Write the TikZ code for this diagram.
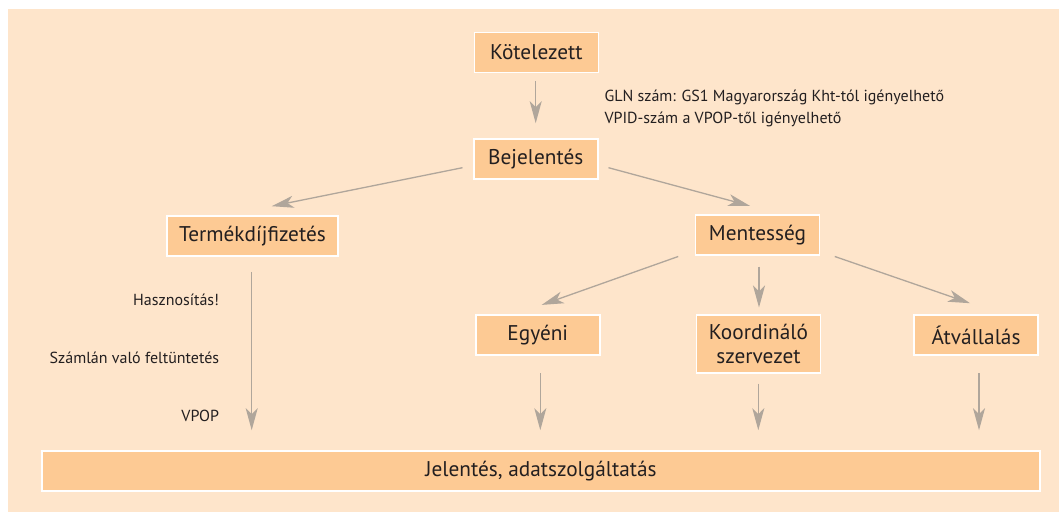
\documentclass[tikz,border=0pt]{standalone}
\usepackage{fontspec}
\setmainfont{PT Sans}
\usetikzlibrary{arrows.meta,calc}
\definecolor{bgc}{RGB}{254,229,203}
\definecolor{boxc}{RGB}{253,202,148}
\definecolor{txtc}{RGB}{35,31,32}
\definecolor{arrc}{RGB}{176,166,155}
\tikzset{
  box/.style={draw=white, line width=1.6pt, fill=boxc, text=txtc, font=\fontsize{21.3}{24}\selectfont,
    minimum width=124pt, minimum height=40pt, inner sep=0pt, align=center},
  arr/.style={draw=arrc, line width=1.3pt, -{Stealth[length=22pt,width=12pt,inset=6pt]}},
  lbl/.style={text=txtc, font=\fontsize{16}{19}\selectfont, inner sep=0pt}
}
\begin{document}
\begin{tikzpicture}[x=1pt,y=-1pt]
\useasboundingbox (0,0) rectangle (1059,513);
\fill[bgc] (8,9) rectangle (1059,512);
\node[box] (k) at (536.3,52.5) {Kötelezett};
\node[box] (b) at (535.7,159) {Bejelentés};
\node[box, minimum width=171pt] (t) at (252.5,236) {Termékdíjfizetés};
\node[box] (m) at (757.5,235) {Mentesség};
\node[box] (e) at (537.8,335) {Egyéni};
\node[box, minimum height=58pt] (ko) at (758.5,344) {Koordináló\\szervezet};
\node[box] (a) at (976,335) {Átvállalás};
\node[box, minimum width=998pt] (j) at (541,471) {Jelentés, adatszolgáltatás};
\node[lbl, anchor=base west] (g1) at (604.3,101.7) {GLN szám: GS1 Magyarország Kht-tól igényelhető};
\node[lbl, anchor=base west] (g2) at (604.3,123.3) {VPID-szám a VPOP-től igényelhető};
\node[lbl, anchor=base east] (l1) at (219.3,305) {Hasznosítás!};
\node[lbl, anchor=base east] (l2) at (219.3,363) {Számlán való feltüntetés};
\node[lbl, anchor=base east] (l3) at (219.3,421.7) {VPOP};
\draw[arr] ($(k.south)+(-0.6,7.5)$) -- ($(b.north)+(0,-15)$);
\draw[arr] ($(b.west)+(-10.4,8.7)$) -- ($(t.north)+(19.2,-9)$);
\draw[arr] ($(b.east)+(10,8.7)$) -- ($(m.north)+(-7.5,-8.3)$);
\draw[arr] ($(t.south)+(-0.8,15)$) -- ($(t.south |- j.north)+(-0.8,-20)$);
\draw[arr] ($(m.south west)+(-16.5,0.7)$) -- ($(e.north)+(3.9,-9.3)$);
\draw[arr] ($(m.south)+(1.5,10.7)$) -- ($(ko.north)+(0.5,-6.7)$);
\draw[arr] ($(m.south east)+(14.5,0.7)$) -- ($(a.north)+(-6,-11)$);
\draw[arr] ($(e.south)+(2.5,17.4)$) -- ($(e.south |- j.north)+(2.5,-20)$);
\draw[arr] ($(ko.south)+(-0.2,9.7)$) -- ($(ko.south |- j.north)+(-0.2,-20)$);
\draw[arr] ($(a.south)+(3,17.4)$) -- ($(a.south |- j.north)+(3,-20)$);
\end{tikzpicture}
\end{document}
